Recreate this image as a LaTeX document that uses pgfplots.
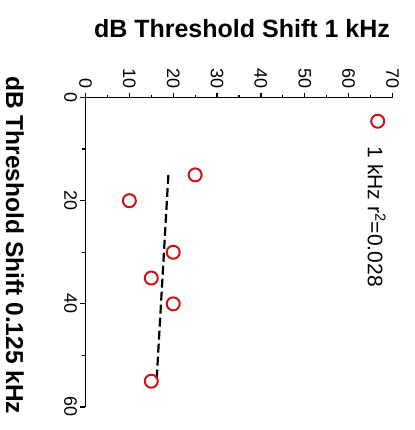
\documentclass[border=0pt]{standalone}
\usepackage{fontspec}
\setmainfont{Liberation Sans}
\usepackage{pgfplots}
\pgfplotsset{compat=1.18}
\definecolor{mkred}{RGB}{205,20,20}
\begin{document}
\begin{tikzpicture}
\useasboundingbox (-85.5pt,97.5pt) rectangle (328.5pt,-332.5pt);
\begin{axis}[
  at={(0pt,0pt)}, anchor=north west,
  scale only axis, width=307pt, height=309.5pt,
  xmin=0, xmax=70, ymin=0, ymax=60,
  y dir=reverse,
  axis x line*=top, axis y line*=left,
  axis line style={line width=1.3pt, black, -},
  xtick={0,10,...,70}, ytick={0,20,40,60},
  minor x tick num=1, minor y tick num=1,
  tick align=outside,
  major tick length=5pt, minor tick length=3pt,
  tick style={line width=1.2pt, black},
  /pgf/number format/assume math mode=true,
  ticklabel style={font=\fontsize{18}{20}\selectfont},
  xticklabel style={rotate=-90, anchor=east},
  yticklabel style={rotate=-90, anchor=north},
  title={dB Threshold Shift 1 kHz},
  title style={font=\bfseries\fontsize{25}{30}\selectfont, anchor=center, yshift=63pt, xshift=3pt},
  every axis y label/.style={at={(axis description cs:0,0.5)}, xshift=-58pt, yshift=7pt, rotate=-90, anchor=north},
  ylabel={dB Threshold Shift 0.125 kHz},
  ylabel style={font=\bfseries\fontsize{24.5}{30}\selectfont},
  legend image code/.code={\draw plot coordinates {(0pt,0pt)};},
  legend style={draw=none, fill=none, inner sep=0pt, nodes={inner sep=0pt}, at={(axis cs:65.1,4.6)}, anchor=west},
  clip=false,
]
\addplot[black, line width=2.2pt, dash pattern=on 9pt off 4pt, forget plot] coordinates {(18.9,15) (16.2,55)};
\addplot[only marks, mark=o, mark size=6.5pt, mkred, line width=2pt] coordinates {
(25,15) (10,20) (20,30) (15,35) (20,40) (15,55)
};
\addlegendentry{}
\node[rotate=-90, anchor=west, inner sep=0pt, font=\fontsize{21}{24}\selectfont] at (axis cs:66.4,9.5) {1 kHz r\textsuperscript{2}=0.028};
\end{axis}
\end{tikzpicture}
\end{document}
